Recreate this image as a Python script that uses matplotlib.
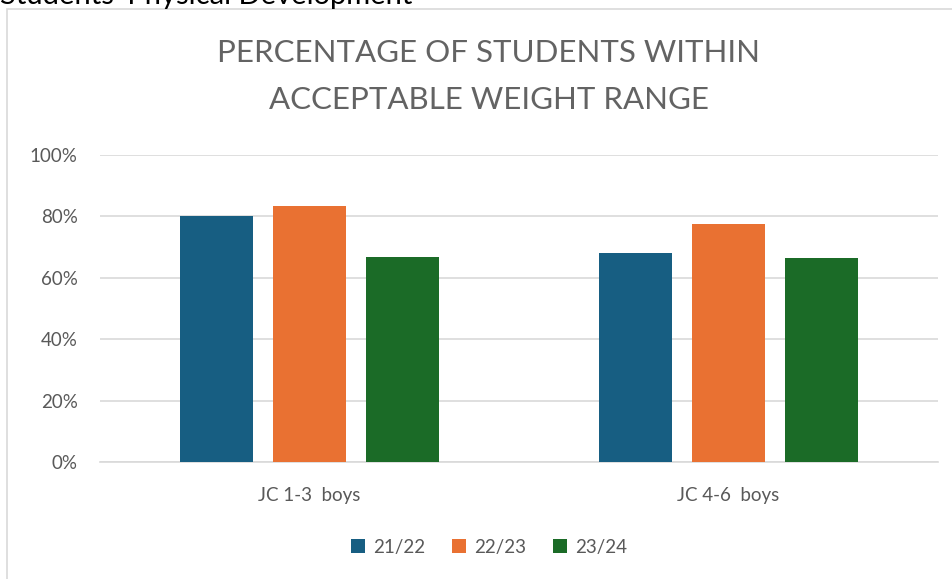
import matplotlib.pyplot as plt
from matplotlib.patches import Rectangle
from matplotlib.ticker import PercentFormatter

categories = ['JC 1-3  boys', 'JC 4-6  boys']
series_names = ['21/22', '22/23', '23/24']
values = {
    '21/22': [80.0, 68.0],
    '22/23': [83.5, 77.5],
    '23/24': [66.8, 66.5],
}
colors = ['#175e82', '#e97132', '#1b6b27']

plt.rcParams['font.family'] = ['Lato', 'DejaVu Sans']

W, H = 952, 579
fig = plt.figure(figsize=(W / 100, H / 100), dpi=100)

# outer chart frame (left + top border only, rest is cut off)
fig.patches.append(Rectangle((7 / W, -0.1), 1.2, 1 - 9.5 / H + 0.1,
                             transform=fig.transFigure, fill=False,
                             edgecolor='#d9d9d9', linewidth=1.2))
# page heading clipped at top
fig.text(0 / W, 1 - 4 / H, "Students' Physical Development", fontsize=21,
         color='#000000', va='baseline', ha='left')

ax = fig.add_axes([100 / W, 1 - 462 / H, 838 / W, (462 - 155) / H])

bw = 0.174
step = 0.222
x = range(len(categories))
for i, name in enumerate(series_names):
    ax.bar([c + (i - 1) * step for c in x], values[name], width=bw,
           color=colors[i], label=name, zorder=3)

ax.set_xlim(-0.5, 1.5)
ax.set_ylim(0, 100)
ax.set_yticks(range(0, 101, 20))
ax.yaxis.set_major_formatter(PercentFormatter(decimals=0))
ax.set_xticks(list(x))
ax.set_xticklabels(categories)
ax.grid(axis='y', color='#d9d9d9', linewidth=1.2, zorder=0)
for s in ['top', 'right', 'left']:
    ax.spines[s].set_visible(False)
ax.spines['bottom'].set_color('#d9d9d9')
ax.spines['bottom'].set_linewidth(1.2)
ax.tick_params(length=0, labelsize=13.5, colors='#595959')
ax.tick_params(axis='y', pad=16)
ax.tick_params(axis='x', pad=18)

mid = 489 / W
fig.text(mid, 1 - 53 / H, 'PERCENTAGE OF STUDENTS WITHIN',
         ha='center', va='center', fontsize=22.5, color='#636363')
fig.text(mid, 1 - 100 / H, 'ACCEPTABLE WEIGHT RANGE',
         ha='center', va='center', fontsize=22.5, color='#636363')

fig.legend(loc='center', bbox_to_anchor=(mid, 1 - 547 / H),
           ncol=3, frameon=False, fontsize=13.5, handlelength=0.75,
           handleheight=0.75, columnspacing=1.4, handletextpad=0.45,
           labelcolor='#595959')

fig.savefig('out.png', dpi=100)
